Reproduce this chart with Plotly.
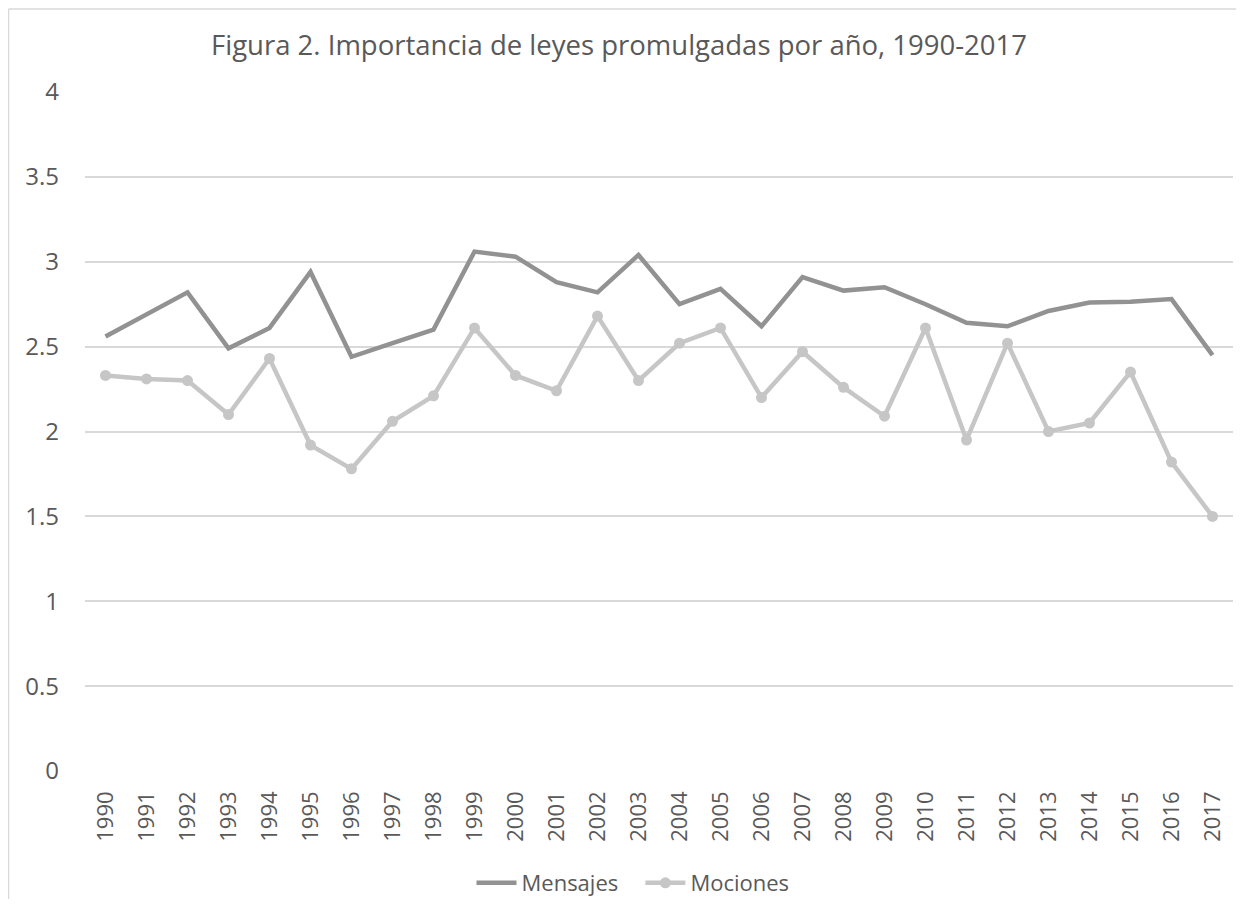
import plotly.graph_objects as go

years = [str(y) for y in range(1990, 2018)]
mensajes = [2.56, 2.69, 2.82, 2.49, 2.61, 2.94, 2.44, 2.52, 2.60, 3.06,
            3.03, 2.88, 2.82, 3.04, 2.75, 2.84, 2.62, 2.91, 2.83, 2.85,
            2.75, 2.64, 2.62, 2.71, 2.76, 2.765, 2.78, 2.45]
mociones = [2.33, 2.31, 2.30, 2.10, 2.43, 1.92, 1.78, 2.06, 2.21, 2.61,
            2.33, 2.24, 2.68, 2.30, 2.52, 2.61, 2.20, 2.47, 2.26, 2.09,
            2.61, 1.95, 2.52, 2.00, 2.05, 2.35, 1.82, 1.50]
y_ticks = [0, 0.5, 1, 1.5, 2, 2.5, 3, 3.5, 4]

# page body has an 8px margin: figure coords = screen coords - 8
OFF = 8
W, H = 1244 - 2 * OFF, 907 - 2 * OFF
L, T = 85 - OFF, 92 - OFF
R = W - (1233 - OFF)
B = H - (771 - OFF)
pw, ph = W - L - R, H - T - B

def px_x(sx):
    return (sx - OFF - L) / pw

def px_y(sy):
    return (H - B - (sy - OFF)) / ph

fig = go.Figure()
fig.add_trace(go.Scatter(x=years, y=mensajes, name="Mensajes\u00a0\u00a0\u00a0", mode="lines",
                         line=dict(color="#929292", width=4.5)))
fig.add_trace(go.Scatter(x=years, y=mociones, name="Mociones", mode="lines+markers",
                         line=dict(color="#c6c6c6", width=4.5),
                         marker=dict(color="#c6c6c6", size=11)))

text_color = "#595959"
fig.update_layout(
    template="none",
    width=W, height=H,
    margin=dict(l=L, r=R, t=T, b=B, autoexpand=False),
    paper_bgcolor="white", plot_bgcolor="white",
    font=dict(family="Open Sans", color=text_color),
    title=dict(text="Figura 2. Importancia de leyes promulgadas por año, 1990-2017",
               xref="container", yref="container",
               x=(619 - OFF) / W, xanchor="center",
               y=1 - (45 - OFF) / H, yanchor="middle",
               font=dict(size=27.5, color=text_color)),
    showlegend=True,
    legend=dict(orientation="h", x=px_x(633), xanchor="center",
                y=px_y(883), yanchor="middle",
                font=dict(size=22, color=text_color), itemwidth=40,
                tracegroupgap=0, bgcolor="rgba(0,0,0,0)"),
    xaxis=dict(type="category", range=[-0.5, 27.5], showgrid=False,
               tickangle=-90, tickfont=dict(size=22, color=text_color),
               showline=False, ticks="", zeroline=False, automargin=False,
               ticklabelstandoff=15),
    yaxis=dict(range=[0, 4], tickvals=y_ticks,
               ticktext=[f"{v:g}" for v in y_ticks],
               showgrid=True, gridcolor="#d9d9d9", gridwidth=1.5,
               zeroline=False, showline=False, ticks="",
               tickfont=dict(size=24, color=text_color),
               ticklabelstandoff=25, automargin=False),
)

# chart border (left and top edges visible in the reference)
fig.add_shape(type="line", xref="paper", yref="paper",
              x0=px_x(8.5), x1=px_x(8.5), y0=px_y(9), y1=px_y(915),
              line=dict(color="#d9d9d9", width=1.5))
fig.add_shape(type="line", xref="paper", yref="paper",
              x0=px_x(8.5), x1=px_x(1260), y0=px_y(9), y1=px_y(9),
              line=dict(color="#d9d9d9", width=1.5))

fig.write_html("out.html")
